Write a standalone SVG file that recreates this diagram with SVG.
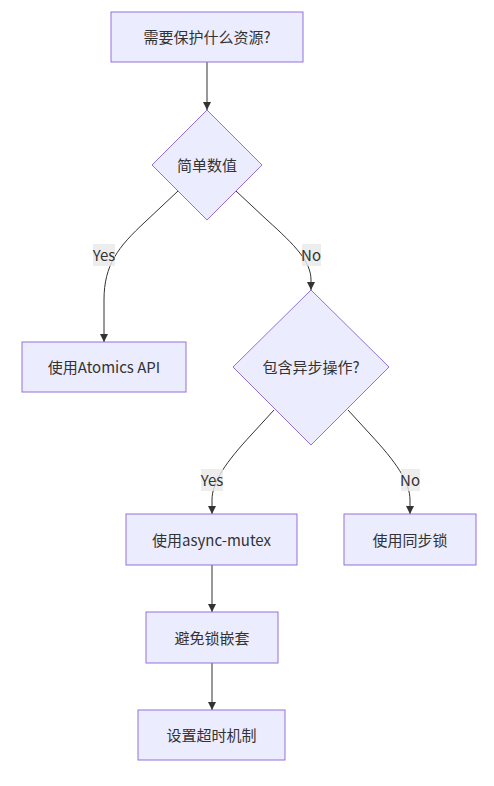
<svg xmlns="http://www.w3.org/2000/svg" width="494" height="786" viewBox="0 0 494 786">
<style>
.n{fill:#ECECFF;stroke:#9370DB;stroke-width:1px}
.t{font-family:"Noto Sans CJK SC","Liberation Sans",sans-serif;font-size:15px;fill:#333;text-anchor:middle;dominant-baseline:central}
.e{fill:none;stroke:#333;stroke-width:1px}
.lb{fill:#e8e8e8;opacity:0.8}
</style>
<defs>
<marker id="arr" viewBox="0 0 10 10" refX="10" refY="5" markerWidth="8" markerHeight="8" markerUnits="userSpaceOnUse" orient="auto">
<path d="M0,0 L10,5 L0,10 z" fill="#333"/>
</marker>
</defs>
<rect width="494" height="786" fill="#fff"/>
<g id="edges">
<path class="e" d="M207,62 L207,110" marker-end="url(#arr)"/>
<path class="e" d="M178,191 L145,222 C118,247 104,265 104,300 L104,342" marker-end="url(#arr)"/>
<path class="e" d="M236,191 L267,220 C296,246 311,262 311,280 L311,290" marker-end="url(#arr)"/>
<path class="e" d="M274,410 L252,434 C226,462 212,482 212,500 L212,514" marker-end="url(#arr)"/>
<path class="e" d="M348,410 L370,434 C396,462 410,482 410,500 L410,514" marker-end="url(#arr)"/>
<path class="e" d="M212,565 L212,612" marker-end="url(#arr)"/>
<path class="e" d="M212,663 L212,710" marker-end="url(#arr)"/>
<g id="lbl-yes1"><rect class="lb" x="93" y="244" width="22" height="22"/><text class="t" x="104" y="254.5">Yes</text></g>
<g id="lbl-no1"><rect class="lb" x="302" y="244" width="19" height="22"/><text class="t" x="311" y="254.5">No</text></g>
<g id="lbl-yes2"><rect class="lb" x="201" y="469" width="22" height="22"/><text class="t" x="212" y="479.5">Yes</text></g>
<g id="lbl-no2"><rect class="lb" x="401" y="469" width="19" height="22"/><text class="t" x="410" y="479.5">No</text></g>
</g>
<g id="A"><rect class="n" x="111" y="12" width="192" height="50"/><text class="t" x="207" y="36.5">需要保护什么资源?</text></g>
<g id="B"><polygon class="n" points="207,110 262,165 207,220 152,165"/><text class="t" x="207" y="164.5">简单数值</text></g>
<g id="C"><rect class="n" x="22" y="342" width="164" height="50"/><text class="t" x="104" y="366.5">使用Atomics API</text></g>
<g id="D"><polygon class="n" points="311,290 389,367 311,445 233,367"/><text class="t" x="311" y="366.5">包含异步操作?</text></g>
<g id="E"><rect class="n" x="126" y="514" width="171" height="51"/><text class="t" x="211.5" y="539">使用async-mutex</text></g>
<g id="F"><rect class="n" x="344" y="514" width="132" height="51"/><text class="t" x="410" y="539">使用同步锁</text></g>
<g id="G"><rect class="n" x="146" y="612" width="132" height="51"/><text class="t" x="212" y="637">避免锁嵌套</text></g>
<g id="H"><rect class="n" x="138" y="710" width="147" height="50"/><text class="t" x="211.5" y="734.5">设置超时机制</text></g>
</svg>
